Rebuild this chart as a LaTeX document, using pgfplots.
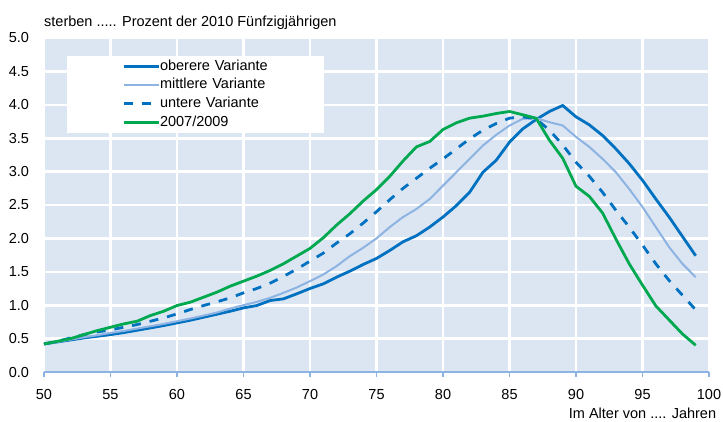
\documentclass[border=0pt]{standalone}
\usepackage{fontspec}
\setmainfont{Liberation Sans}
\usepackage{pgfplots}
\pgfplotsset{compat=1.18}
\definecolor{bgcol}{RGB}{220,230,242}
\definecolor{dblue}{RGB}{0,112,192}
\definecolor{lblue}{RGB}{141,179,226}
\definecolor{gcol}{RGB}{0,168,80}
\definecolor{axcol}{RGB}{141,179,226}
\begin{document}
\fontsize{14.5pt}{17pt}\selectfont
\begin{tikzpicture}
\begin{axis}[
  scale only axis, width=665pt, height=334pt,
  xmin=50, xmax=100, ymin=0, ymax=5,
  xtick={50,55,...,100}, ytick={0,0.5,...,5},
  axis background/.style={fill=bgcol},
  grid=major, grid style={white, line width=2.6pt},
  axis x line*=bottom, axis y line*=left,
  y axis line style={draw=none},
  x axis line style={draw=axcol, line width=1.6pt, -},
  xtick style={draw=axcol, line width=1.2pt},
  ytick style={draw=none},
  tick align=outside, major tick length=5pt,
  /pgf/number format/assume math mode=true,
  yticklabel style={/pgf/number format/.cd, fixed, fixed zerofill, precision=1, /tikz/.cd, font=\fontsize{14.5pt}{17pt}\selectfont, xshift=-5pt},
  xticklabel style={font=\fontsize{14.5pt}{17pt}\selectfont, yshift=-7pt},
  clip=false,
  legend cell align=left,
  legend image code/.code={\path (-55pt,0pt); \draw[#1] (0pt,0pt) -- (35pt,0pt);},
  legend style={at={(rel axis cs:0.0346,0.946)}, anchor=north west, fill=white, draw=none,
    inner xsep=0pt, inner ysep=3.5pt, row sep=5.2pt,
    font=\fontsize{14.5pt}{17pt}\selectfont,
    nodes={inner sep=0pt, text height=10.5pt, text depth=3pt, text width=164pt},
    /tikz/every even column/.style={column sep=1pt}},
]
\coordinate (bbsw) at ([xshift=-44pt,yshift=-49pt]rel axis cs:0,0);
\coordinate (bbne) at ([xshift=14pt,yshift=38pt]rel axis cs:1,1);
\addplot[dblue, line width=2.8pt] coordinates {
(50,0.42)(51,0.45)(52,0.48)(53,0.51)(54,0.535)(55,0.56)(56,0.59)(57,0.625)(58,0.66)(59,0.695)
(60,0.735)(61,0.775)(62,0.82)(63,0.865)(64,0.91)(65,0.96)(66,0.995)(67,1.07)(68,1.095)(69,1.17)
(70,1.25)(71,1.32)(72,1.42)(73,1.51)(74,1.61)(75,1.7)(76,1.82)(77,1.95)(78,2.04)(79,2.17)
(80,2.32)(81,2.49)(82,2.69)(83,2.99)(84,3.17)(85,3.44)(86,3.64)(87,3.78)(88,3.9)(89,3.99)
(90,3.82)(91,3.7)(92,3.54)(93,3.34)(94,3.12)(95,2.87)(96,2.59)(97,2.32)(98,2.03)(99,1.74)};
\addlegendentry{oberere Variante}
\addplot[lblue, line width=2pt] coordinates {
(50,0.42)(51,0.45)(52,0.485)(53,0.52)(54,0.55)(55,0.585)(56,0.615)(57,0.65)(58,0.685)(59,0.72)
(60,0.76)(61,0.8)(62,0.845)(63,0.89)(64,0.95)(65,1.0)(66,1.05)(67,1.11)(68,1.185)(69,1.265)
(70,1.36)(71,1.46)(72,1.585)(73,1.735)(74,1.86)(75,2.0)(76,2.17)(77,2.32)(78,2.44)(79,2.59)
(80,2.79)(81,2.99)(82,3.19)(83,3.39)(84,3.55)(85,3.69)(86,3.79)(87,3.8)(88,3.74)(89,3.69)
(90,3.52)(91,3.37)(92,3.19)(93,2.99)(94,2.74)(95,2.47)(96,2.17)(97,1.87)(98,1.62)(99,1.42)};
\addlegendentry{mittlere Variante}
\addplot[dblue, line width=2.8pt, dash pattern=on 9pt off 9pt] coordinates {
(50,0.42)(51,0.46)(52,0.51)(53,0.56)(54,0.6)(55,0.63)(56,0.67)(57,0.71)(58,0.76)(59,0.81)
(60,0.87)(61,0.935)(62,0.995)(63,1.05)(64,1.11)(65,1.185)(66,1.25)(67,1.33)(68,1.43)(69,1.54)
(70,1.66)(71,1.78)(72,1.93)(73,2.07)(74,2.23)(75,2.4)(76,2.58)(77,2.75)(78,2.9)(79,3.05)
(80,3.19)(81,3.34)(82,3.49)(83,3.62)(84,3.72)(85,3.8)(86,3.82)(87,3.79)(88,3.62)(89,3.4)
(90,3.14)(91,2.93)(92,2.69)(93,2.42)(94,2.17)(95,1.9)(96,1.62)(97,1.37)(98,1.15)(99,0.93)};
\addlegendentry{untere Variante}
\addplot[gcol, line width=2.8pt] coordinates {
(50,0.42)(51,0.46)(52,0.5)(53,0.56)(54,0.62)(55,0.67)(56,0.72)(57,0.76)(58,0.845)(59,0.91)
(60,0.995)(61,1.045)(62,1.12)(63,1.195)(64,1.285)(65,1.36)(66,1.435)(67,1.52)(68,1.62)(69,1.735)
(70,1.85)(71,2.01)(72,2.2)(73,2.37)(74,2.56)(75,2.73)(76,2.93)(77,3.16)(78,3.37)(79,3.45)
(80,3.63)(81,3.73)(82,3.8)(83,3.83)(84,3.87)(85,3.9)(86,3.85)(87,3.8)(88,3.47)(89,3.2)
(90,2.78)(91,2.63)(92,2.38)(93,1.99)(94,1.62)(95,1.3)(96,0.99)(97,0.78)(98,0.57)(99,0.4)};
\addlegendentry{2007/2009}
\node[anchor=base west, inner sep=0pt] at ([yshift=12pt]rel axis cs:0,1) {sterben ..... Prozent der 2010 Fünfzigjährigen};
\node[anchor=base west, inner sep=0pt] at ([yshift=-46pt]rel axis cs:0.789,0) {Im Alter von .... Jahren};
\end{axis}
\pgfresetboundingbox
\useasboundingbox (bbsw) rectangle (bbne);
\end{tikzpicture}
\end{document}
